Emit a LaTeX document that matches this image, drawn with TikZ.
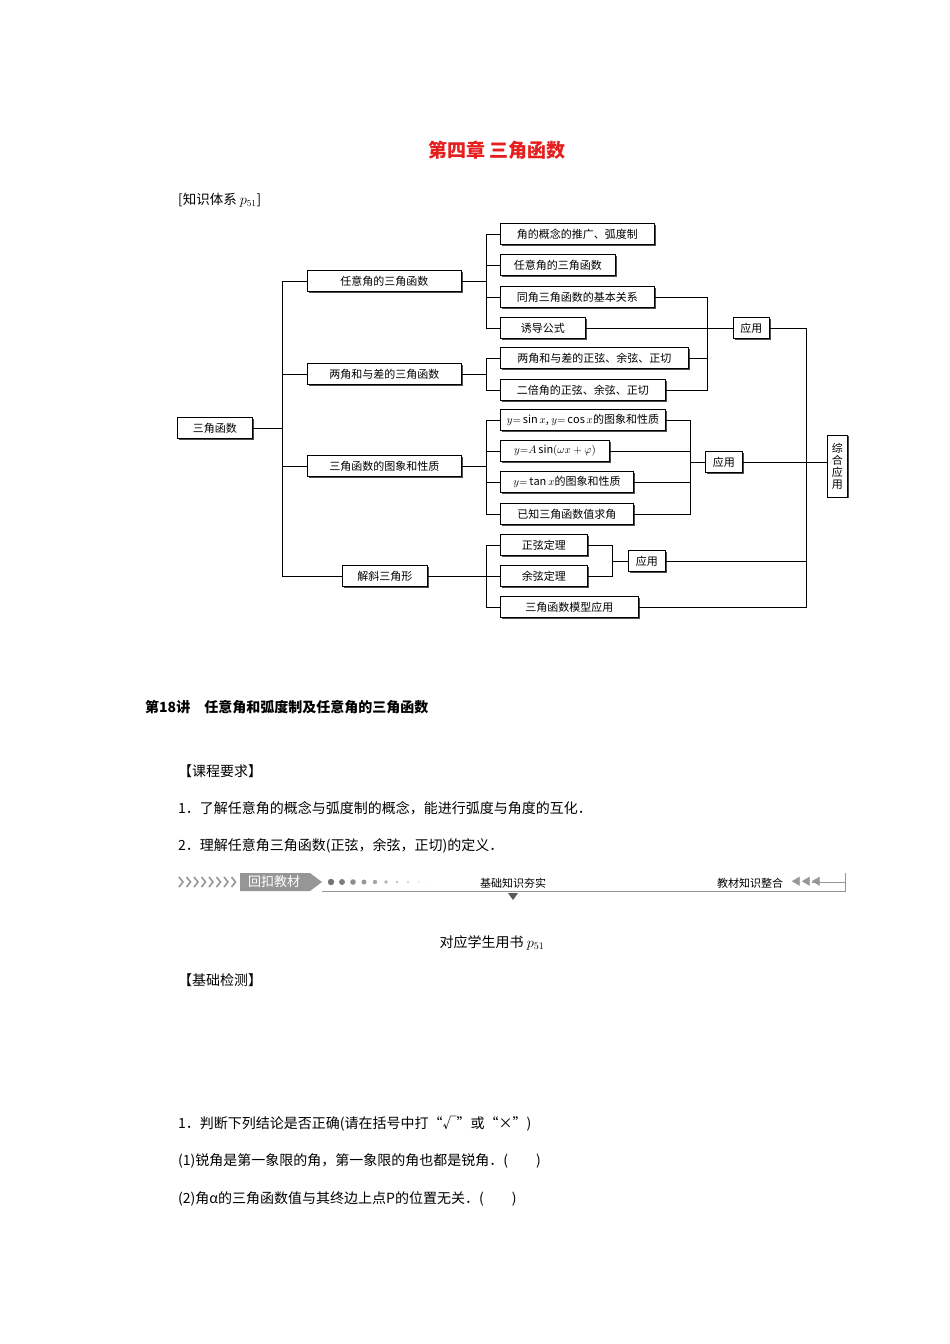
\documentclass[tikz,border=0pt]{standalone}
\usepackage{fontspec}
\setmainfont{Noto Sans CJK SC}
\usetikzlibrary{shadows}
\definecolor{titlered}{RGB}{230,30,30}
\definecolor{bargray}{RGB}{150,150,150}
\tikzset{
  box/.style={draw, thick, fill=white, anchor=west, minimum height=21pt, inner sep=2pt,
    font=\fontsize{11}{12}\selectfont, drop shadow={shadow xshift=1.2pt, shadow yshift=-1.2pt, opacity=1, fill=black!70}},
  wire/.style={semithick},
  txt/.style={anchor=west, inner sep=0pt, font=\fontsize{14}{16}\selectfont},
}
\begin{document}
\begin{tikzpicture}[x=1pt, y=-1pt]
        \useasboundingbox[fill=white] (0,0) rectangle (950,1344);
        % heading
        \node[font=\fontsize{19}{22}\selectfont\bfseries, text=titlered] (title) at (497,150) {第四章\ 三角函数};
        \node[txt, font=\fontsize{13.5}{16}\selectfont] (sys) at (178,200) {[知识体系 $p_{51}$]};

        % tree
        \node[box, minimum width=75pt] (root) at (177,428) {三角函数};
        \node[box, minimum width=154pt] (A) at (307,281) {任意角的三角函数};
        \node[box, minimum width=154pt] (B) at (307,374) {两角和与差的三角函数};
        \node[box, minimum width=154pt] (C) at (307,466) {三角函数的图象和性质};
        \node[box, minimum width=85pt] (D) at (342,576) {解斜三角形};

        \node[box, minimum width=154pt] (a1) at (500,234) {角的概念的推广、弧度制};
        \node[box, minimum width=115pt] (a2) at (500,265) {任意角的三角函数};
        \node[box, minimum width=154pt] (a3) at (500,297) {同角三角函数的基本关系};
        \node[box, minimum width=85pt] (a4) at (500,328) {诱导公式};
        \node[box, minimum width=188pt] (b1) at (500,358) {两角和与差的正弦、余弦、正切};
        \node[box, minimum width=165pt] (b2) at (500,390) {二倍角的正弦、余弦、正切};
        \node[box, minimum width=165pt] (c1) at (500,420) {$y{=}\sin x$, $y{=}\cos x$的图象和性质};
        \node[box, minimum width=109pt] (c2) at (500,451) {$y{=}A\sin(\omega x+\varphi)$};
        \node[box, minimum width=133pt] (c3) at (500,482) {$y{=}\tan x$的图象和性质};
        \node[box, minimum width=133pt] (c4) at (500,514) {已知三角函数值求角};
        \node[box, minimum width=87pt] (d1) at (500,545) {正弦定理};
        \node[box, minimum width=87pt] (d2) at (500,576) {余弦定理};
        \node[box, minimum width=138pt] (d3) at (500,607) {三角函数模型应用};

        \node[box, minimum width=36pt] (use1) at (733,328) {应用};
        \node[box, minimum width=37pt] (use2) at (705,462) {应用};
        \node[box, minimum width=37pt] (use3) at (628,561) {应用};
        \node[box, minimum width=20pt, minimum height=62pt, align=center, inner sep=1pt] (all) at (827,466) {综\\合\\应\\用};

        \coordinate (tr) at (282,0);
        \coordinate (g) at (486,0);
        \coordinate (k1) at (707,0);
        \coordinate (k2) at (690,0);
        \coordinate (k3) at (612,0);
        \coordinate (k4) at (806,0);

        \draw[wire] (root.east) -- (tr |- root.east);
        \draw[wire] (tr |- A.west) -- (tr |- D.west);
        \foreach \n in {A,B,C,D}
            \draw[wire] (tr |- \n.west) -- (\n.west);
        \foreach \p/\q in {a1/a4, b1/b2, c1/c4, d1/d3}
            \draw[wire] (g |- \p.west) -- (g |- \q.west);
        \foreach \n in {a1,a2,a3,a4,b1,b2,c1,c2,c3,c4,d1,d2,d3}
            \draw[wire] (g |- \n.west) -- (\n.west);
        \draw[wire] (A.east) -- (g |- A.east);
        \draw[wire] (B.east) -- (g |- B.east);
        \draw[wire] (C.east) -- (g |- C.east);
        \draw[wire] (D.east) -- (g |- D.east);

        % first application
        \draw[wire] (a3.east) -- (k1 |- a3.east) -- (k1 |- b2.east) -- (b2.east);
        \draw[wire] (b1.east) -- (k1 |- b1.east);
        \draw[wire] (a4.east) -- (use1.west);
        % second application
        \draw[wire] (c1.east) -- (k2 |- c1.east) -- (k2 |- c4.east) -- (c4.east);
        \foreach \n in {c2,c3}
            \draw[wire] (\n.east) -- (k2 |- \n.east);
        \draw[wire] (k2 |- use2.west) -- (use2.west);
        % third application
        \draw[wire] (d1.east) -- (k3 |- d1.east) -- (k3 |- d2.east) -- (d2.east);
        \draw[wire] (k3 |- use3.west) -- (use3.west);
        % summary
        \draw[wire] (use1.east) -- (k4 |- use1.east) -- (k4 |- d3.east) -- (d3.east);
        \draw[wire] (use3.east) -- (k4 |- use3.east);
        \draw[wire] (use2.east) -- (all.west |- use2.east);

        % lesson text
        \node[txt, font=\fontsize{14}{16}\selectfont\bfseries] (lec) at (145,707) {第18讲\quad 任意角和弧度制及任意角的三角函数};
        \node[txt] (req) at (178,771) {【课程要求】};
        \node[txt] (r1) at (178,808) {1．了解任意角的概念与弧度制的概念，能进行弧度与角度的互化．};
        \node[txt] (r2) at (178,846) {2．理解任意角三角函数(正弦，余弦，正切)的定义．};

        % banner
        \foreach \i in {0,...,7}
            \draw[bargray, line width=1.6pt] (179+7.5*\i,877) -- (183+7.5*\i,882) -- (179+7.5*\i,887);
        \fill[bargray] (240,873) -- (310,873) -- (322,882) -- (310,891) -- (240,891) -- cycle;
        \node[inner sep=0pt, text=white, font=\fontsize{13}{14}\selectfont] (back) at (274,882) {回扣教材};
        \foreach \i/\s in {0/3.2,1/3.0,2/2.8,3/2.5,4/2.2,5/1.8,6/1.4,7/1.1,8/0.8,9/0.6}
            \fill[black!55!white, opacity=1-\i*0.09] (331+11*\i,882) circle (\s pt);
        \draw[bargray, thick] (322,891) -- (845,891);
        \draw[bargray, thick] (845,873) -- (845,892);
        \draw[bargray, thick] (812,882) -- (845,882);
        \node[inner sep=0pt, font=\fontsize{11}{12}\selectfont] (base) at (513,883) {基础知识夯实};
        \fill[black!65] (508,893) -- (518,893) -- (513,900) -- cycle;
        \node[inner sep=0pt, font=\fontsize{11}{12}\selectfont] (whole) at (750,883) {教材知识整合};
        \node[inner sep=0pt, text=bargray, font=\fontsize{10}{10}\selectfont] (tips) at (806,882) {◀◀◀};

        \node[font=\fontsize{14}{16}\selectfont] (book) at (492,943) {对应学生用书 $p_{51}$};
        \node[txt] (test) at (178,980) {【基础检测】};
        \node[txt] (q1) at (178,1124) {1．判断下列结论是否正确(请在括号中打“√”或“×”)};
        \node[txt] (q11) at (178,1161) {(1)锐角是第一象限的角，第一象限的角也都是锐角．(\quad\quad)};
        \node[txt] (q12) at (178,1199) {(2)角α的三角函数值与其终边上点P的位置无关．(\quad\quad)};
    \end{tikzpicture}
\end{document}
